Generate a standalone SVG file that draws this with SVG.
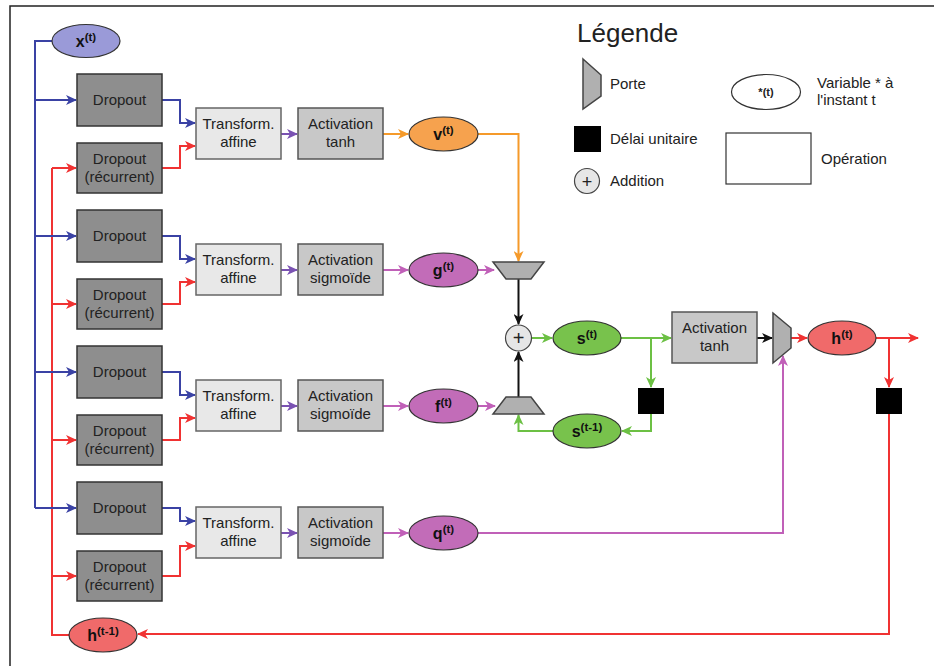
<svg xmlns="http://www.w3.org/2000/svg" width="934" height="666" viewBox="0 0 934 666">
<style>
text{font-family:"Liberation Sans",Arial,sans-serif;fill:#222}
.box{font-size:15px;text-anchor:middle}
.var{font-size:16px;font-weight:bold;text-anchor:middle;fill:#111}
.sup{font-size:11.5px}
.leg{font-size:15px}
.drop{fill:#8e8e8e;stroke:#333;stroke-width:1.5}
.aff{fill:#e8e8e8;stroke:#666;stroke-width:1.5}
.act{fill:#c8c8c8;stroke:#555;stroke-width:1.5}
.gate{fill:#b0b0b0;stroke:#444;stroke-width:1.5}
.delay{fill:#000}
.ell{stroke:#333;stroke-width:1.2}
.c{fill:none;stroke-width:2}
.blue{stroke:#3a42a4}.red{stroke:#f03232}.pur{stroke:#7a52b2}.ora{stroke:#f59a2a}.pink{stroke:#c060b8}.grn{stroke:#6cc044}.blk{stroke:#111}
</style>
<defs>
<marker id="mb" markerUnits="userSpaceOnUse" markerWidth="11" markerHeight="10" refX="10" refY="5" orient="auto"><path d="M0,0 L11,5 L0,10 L3,5 z" fill="#3a42a4"/></marker>
<marker id="mr" markerUnits="userSpaceOnUse" markerWidth="11" markerHeight="10" refX="10" refY="5" orient="auto"><path d="M0,0 L11,5 L0,10 L3,5 z" fill="#f03232"/></marker>
<marker id="mp" markerUnits="userSpaceOnUse" markerWidth="11" markerHeight="10" refX="10" refY="5" orient="auto"><path d="M0,0 L11,5 L0,10 L3,5 z" fill="#7a52b2"/></marker>
<marker id="mo" markerUnits="userSpaceOnUse" markerWidth="11" markerHeight="10" refX="10" refY="5" orient="auto"><path d="M0,0 L11,5 L0,10 L3,5 z" fill="#f59a2a"/></marker>
<marker id="mk" markerUnits="userSpaceOnUse" markerWidth="11" markerHeight="10" refX="10" refY="5" orient="auto"><path d="M0,0 L11,5 L0,10 L3,5 z" fill="#c060b8"/></marker>
<marker id="mg" markerUnits="userSpaceOnUse" markerWidth="11" markerHeight="10" refX="10" refY="5" orient="auto"><path d="M0,0 L11,5 L0,10 L3,5 z" fill="#6cc044"/></marker>
<marker id="mx" markerUnits="userSpaceOnUse" markerWidth="11" markerHeight="10" refX="10" refY="5" orient="auto"><path d="M0,0 L11,5 L0,10 L3,5 z" fill="#111"/></marker>
</defs>
<rect width="934" height="666" fill="#fff"/>
<path d="M934,6 H10 V666" fill="none" stroke="#222" stroke-width="1.5"/>

<g id="connectors">
<path class="c blue" d="M52,41 H35 V508"/>
<path class="c red" d="M69,635 H52 V168"/>
<path class="c blue" d="M35,100 H76" marker-end="url(#mb)"/>
<path class="c blue" d="M35,236 H76" marker-end="url(#mb)"/>
<path class="c blue" d="M35,372 H76" marker-end="url(#mb)"/>
<path class="c blue" d="M35,508 H76" marker-end="url(#mb)"/>
<path class="c red" d="M52,168 H76" marker-end="url(#mr)"/>
<path class="c red" d="M52,304 H76" marker-end="url(#mr)"/>
<path class="c red" d="M52,440 H76" marker-end="url(#mr)"/>
<path class="c red" d="M52,576 H76" marker-end="url(#mr)"/>
<path class="c blue" d="M162,100 H180 V123 H195" marker-end="url(#mb)"/>
<path class="c blue" d="M162,236 H180 V259 H195" marker-end="url(#mb)"/>
<path class="c blue" d="M162,372 H180 V395 H195" marker-end="url(#mb)"/>
<path class="c blue" d="M162,508 H180 V521 H195" marker-end="url(#mb)"/>
<path class="c red" d="M162,168 H180 V146 H195" marker-end="url(#mr)"/>
<path class="c red" d="M162,304 H180 V282 H195" marker-end="url(#mr)"/>
<path class="c red" d="M162,440 H180 V418 H195" marker-end="url(#mr)"/>
<path class="c red" d="M162,576 H180 V546 H195" marker-end="url(#mr)"/>
<path class="c pur" d="M281,134 H297" marker-end="url(#mp)"/>
<path class="c pur" d="M281,270 H297" marker-end="url(#mp)"/>
<path class="c pur" d="M281,406 H297" marker-end="url(#mp)"/>
<path class="c pur" d="M281,533 H297" marker-end="url(#mp)"/>
<path class="c ora" d="M383,134 H408" marker-end="url(#mo)"/>
<path class="c pink" d="M383,270 H408" marker-end="url(#mk)"/>
<path class="c pink" d="M383,406 H408" marker-end="url(#mk)"/>
<path class="c pink" d="M383,533 H408" marker-end="url(#mk)"/>
<path class="c ora" d="M478,134 H518.5 V261" marker-end="url(#mo)"/>
<path class="c pink" d="M478,270 H494" marker-end="url(#mk)"/>
<path class="c pink" d="M478,406 H495" marker-end="url(#mk)"/>
<path class="c pink" d="M478,533 H783 V356" marker-end="url(#mk)"/>
<path class="c blk" d="M518.5,279 V324" marker-end="url(#mx)"/>
<path class="c blk" d="M518.5,397 V352" marker-end="url(#mx)"/>
<path class="c grn" d="M532,338 H552" marker-end="url(#mg)"/>
<path class="c grn" d="M621,338 H671" marker-end="url(#mg)"/>
<path class="c grn" d="M651,338 V387" marker-end="url(#mg)"/>
<path class="c grn" d="M651,414 V431 H622" marker-end="url(#mg)"/>
<path class="c grn" d="M553,431 H518.5 V415" marker-end="url(#mg)"/>
<path class="c blk" d="M757,338 H772" marker-end="url(#mx)"/>
<path class="c red" d="M791,338 H807" marker-end="url(#mr)"/>
<path class="c red" d="M876,338 H918" marker-end="url(#mr)"/>
<path class="c red" d="M889,338 V387" marker-end="url(#mr)"/>
<path class="c red" d="M889,414 V634 H138" marker-end="url(#mr)"/>
</g>

<g id="x_t"><ellipse class="ell" cx="86" cy="41" rx="34" ry="16.5" fill="#9a9ad8"/><text class="var" x="86" y="47">x<tspan class="sup" dy="-6">(t)</tspan></text></g>

<g id="dropout1"><rect class="drop" x="77" y="74" width="85" height="52"/><text class="box" x="119.5" y="105">Dropout</text></g>
<g id="dropout_rec1"><rect class="drop" x="77" y="143" width="85" height="50"/><text class="box" x="119.5" y="164">Dropout</text><text class="box" x="119.5" y="182">(récurrent)</text></g>
<g id="affine1"><rect class="aff" x="196" y="108" width="85" height="51"/><text class="box" x="238.5" y="129">Transform.</text><text class="box" x="238.5" y="147">affine</text></g>
<g id="act1"><rect class="act" x="298" y="108" width="85" height="51"/><text class="box" x="340.5" y="129">Activation</text><text class="box" x="340.5" y="147">tanh</text></g>
<g id="v_t"><ellipse class="ell" cx="443.5" cy="134" rx="34.5" ry="17" fill="#f6a24e"/><text class="var" x="443.5" y="140">v<tspan class="sup" dy="-6">(t)</tspan></text></g>

<g id="dropout2"><rect class="drop" x="77" y="210" width="85" height="52"/><text class="box" x="119.5" y="241">Dropout</text></g>
<g id="dropout_rec2"><rect class="drop" x="77" y="279" width="85" height="50"/><text class="box" x="119.5" y="300">Dropout</text><text class="box" x="119.5" y="318">(récurrent)</text></g>
<g id="affine2"><rect class="aff" x="196" y="244" width="85" height="51"/><text class="box" x="238.5" y="265">Transform.</text><text class="box" x="238.5" y="283">affine</text></g>
<g id="act2"><rect class="act" x="298" y="244" width="85" height="51"/><text class="box" x="340.5" y="265">Activation</text><text class="box" x="340.5" y="283">sigmoïde</text></g>
<g id="g_t"><ellipse class="ell" cx="443.5" cy="270" rx="34.5" ry="17" fill="#c26cb8"/><text class="var" x="443.5" y="276">g<tspan class="sup" dy="-6">(t)</tspan></text></g>

<g id="dropout3"><rect class="drop" x="77" y="346" width="85" height="52"/><text class="box" x="119.5" y="377">Dropout</text></g>
<g id="dropout_rec3"><rect class="drop" x="77" y="415" width="85" height="50"/><text class="box" x="119.5" y="436">Dropout</text><text class="box" x="119.5" y="454">(récurrent)</text></g>
<g id="affine3"><rect class="aff" x="196" y="380" width="85" height="51"/><text class="box" x="238.5" y="401">Transform.</text><text class="box" x="238.5" y="419">affine</text></g>
<g id="act3"><rect class="act" x="298" y="380" width="85" height="51"/><text class="box" x="340.5" y="401">Activation</text><text class="box" x="340.5" y="419">sigmoïde</text></g>
<g id="f_t"><ellipse class="ell" cx="443.5" cy="406" rx="34.5" ry="17" fill="#c26cb8"/><text class="var" x="443.5" y="412">f<tspan class="sup" dy="-6">(t)</tspan></text></g>

<g id="dropout4"><rect class="drop" x="77" y="482" width="85" height="52"/><text class="box" x="119.5" y="513">Dropout</text></g>
<g id="dropout_rec4"><rect class="drop" x="77" y="551" width="85" height="50"/><text class="box" x="119.5" y="572">Dropout</text><text class="box" x="119.5" y="590">(récurrent)</text></g>
<g id="affine4"><rect class="aff" x="196" y="507" width="85" height="51"/><text class="box" x="238.5" y="528">Transform.</text><text class="box" x="238.5" y="546">affine</text></g>
<g id="act4"><rect class="act" x="298" y="507" width="85" height="51"/><text class="box" x="340.5" y="528">Activation</text><text class="box" x="340.5" y="546">sigmoïde</text></g>
<g id="q_t"><ellipse class="ell" cx="443.5" cy="533" rx="34.5" ry="17" fill="#c26cb8"/><text class="var" x="443.5" y="539">q<tspan class="sup" dy="-6">(t)</tspan></text></g>

<g id="gate_in"><polygon class="gate" points="493,262 544,262 531,279 506,279"/></g>
<g id="gate_forget"><polygon class="gate" points="506,397 531,397 544,414 493,414"/></g>
<g id="add"><circle cx="518.5" cy="338" r="13" fill="#e6e6e6" stroke="#444" stroke-width="1.2"/><text x="518.5" y="345" font-size="20" text-anchor="middle">+</text></g>
<g id="s_t"><ellipse class="ell" cx="587" cy="338" rx="34" ry="17" fill="#78c24c"/><text class="var" x="587" y="344">s<tspan class="sup" dy="-6">(t)</tspan></text></g>
<g id="s_t1"><ellipse class="ell" cx="587" cy="431" rx="34" ry="17" fill="#78c24c"/><text class="var" x="587" y="437">s<tspan class="sup" dy="-6">(t-1)</tspan></text></g>
<g id="delay_s"><rect class="delay" x="638" y="388" width="26" height="26"/></g>
<g id="act_out"><rect class="act" x="672" y="312" width="85" height="51"/><text class="box" x="714.5" y="333">Activation</text><text class="box" x="714.5" y="351">tanh</text></g>
<g id="gate_out"><polygon class="gate" points="773,313 791,328 791,348 773,363"/></g>
<g id="h_t"><ellipse class="ell" cx="842" cy="338" rx="34" ry="17" fill="#f06a6a"/><text class="var" x="842" y="344">h<tspan class="sup" dy="-6">(t)</tspan></text></g>
<g id="delay_h"><rect class="delay" x="876" y="388" width="26" height="26"/></g>
<g id="h_t1"><ellipse class="ell" cx="103" cy="635" rx="34" ry="17" fill="#f06a6a"/><text class="var" x="103" y="641">h<tspan class="sup" dy="-6">(t-1)</tspan></text></g>

<g id="legend">
<text x="577" y="42" font-size="26">Légende</text>
<polygon class="gate" points="583,59 601,75 601,96 583,109"/>
<text class="leg" x="610" y="89">Porte</text>
<rect class="delay" x="574" y="126" width="27" height="26"/>
<text class="leg" x="610" y="144">Délai unitaire</text>
<circle cx="587" cy="181" r="12.5" fill="#e6e6e6" stroke="#444" stroke-width="1.2"/>
<text x="587" y="187.5" font-size="18" text-anchor="middle">+</text>
<text class="leg" x="610" y="186">Addition</text>
<ellipse cx="766" cy="92" rx="34.5" ry="17.5" fill="#fff" stroke="#333" stroke-width="1.2"/>
<text x="766" y="96" font-size="11" font-weight="bold" text-anchor="middle">*(t)</text>
<text class="leg" x="817" y="88">Variable * à</text>
<text class="leg" x="817" y="105">l'instant t</text>
<rect x="726" y="133" width="85" height="51" fill="#fff" stroke="#333" stroke-width="1.2"/>
<text class="leg" x="821" y="164">Opération</text>
</g>
</svg>
